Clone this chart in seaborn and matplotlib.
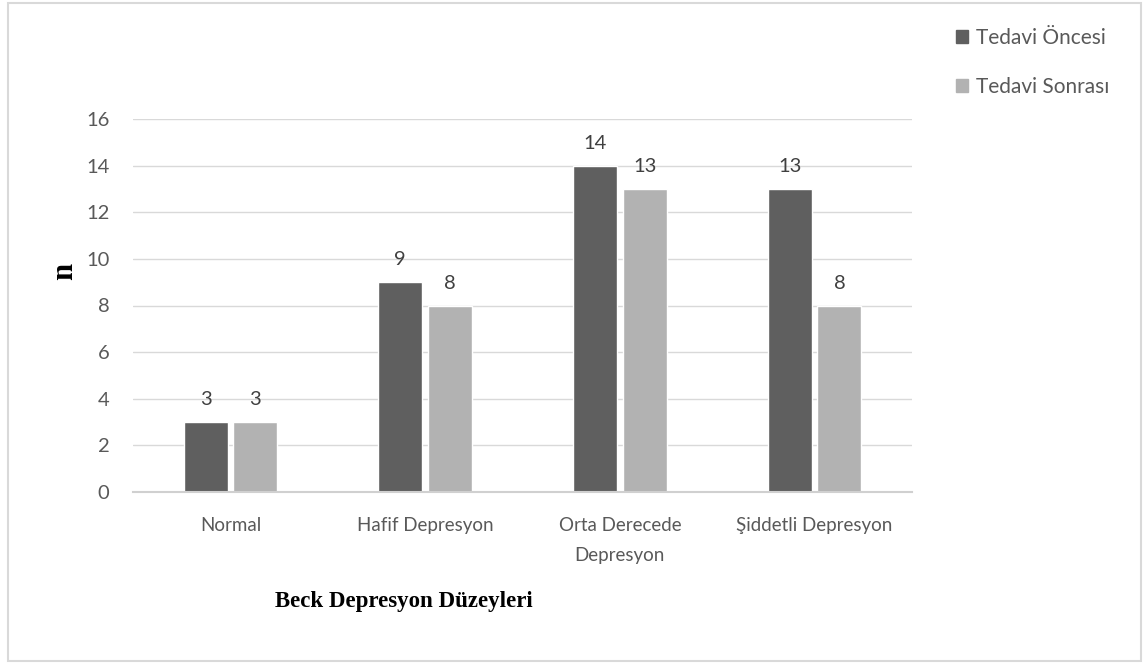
import matplotlib
matplotlib.use("Agg")
import matplotlib.pyplot as plt
import matplotlib.patches as mpatches
import seaborn as sns
import pandas as pd

# Depression levels and patient counts before / after treatment
categories = ["Normal", "Hafif Depresyon", "Orta Derecede\nDepresyon", "Şiddetli Depresyon"]
series_names = ["Tedavi Öncesi", "Tedavi Sonrası"]
before_values = [3, 9, 14, 13]
after_values = [3, 8, 13, 8]
y_ticks = [0, 2, 4, 6, 8, 10, 12, 14, 16]

colors = ["#5f5f5f", "#b2b2b2"]

df = pd.DataFrame({
    "level": categories * 2,
    "group": [series_names[0]] * len(categories) + [series_names[1]] * len(categories),
    "n": before_values + after_values,
})

sns.set_theme(style="white")
plt.rcParams["font.family"] = ["Lato", "DejaVu Sans"]

fig = plt.figure(figsize=(11.43, 6.63), dpi=100)
ax = fig.add_axes([133 / 1143, 1 - 492 / 663, (912 - 133) / 1143, (492 - 119) / 663])

sns.barplot(data=df, x="level", y="n", hue="group", order=categories,
            hue_order=series_names, palette=colors, width=0.51, gap=0.114,
            saturation=1, ax=ax, legend=False)

ax.set_ylim(0, 16)
ax.set_yticks(y_ticks)
ax.set_xlim(-0.5, len(categories) - 0.5)
ax.yaxis.grid(True, color="#d9d9d9", linewidth=1)
ax.set_axisbelow(True)
for side in ["left", "right", "top"]:
    ax.spines[side].set_visible(False)
ax.spines["bottom"].set_color("#d0d0d0")
ax.spines["bottom"].set_linewidth(1.5)
ax.tick_params(axis="both", length=0, colors="#595959")
ax.tick_params(axis="y", pad=17, labelsize=14.5)
ax.tick_params(axis="x", pad=18, labelsize=13.5)
for lbl in ax.get_xticklabels():
    lbl.set_linespacing(1.95)

for cont in ax.containers:
    ax.bar_label(cont, fmt="%d", padding=10, fontsize=14.5, color="#404040")

ax.set_xlabel("Beck Depresyon Düzeyleri", fontsize=16.5, fontweight="bold",
              family="Liberation Serif", color="black")
ax.xaxis.set_label_coords((404 - 133) / (912 - 133), -(591 - 492) / (492 - 119))
ax.set_ylabel("n", fontsize=22, fontweight="bold", family="Liberation Serif",
              color="black")
ax.yaxis.set_label_coords(-(133 - 79) / (912 - 133), (492 - 271) / (492 - 119))

handles = [mpatches.Patch(color=c, label=s) for c, s in zip(colors, series_names)]
fig.legend(handles=handles, loc="upper left", bbox_to_anchor=(956 / 1143, 1 - 28 / 663),
           frameon=False, fontsize=15, handlelength=0.58, handleheight=0.58,
           handletextpad=0.4, labelspacing=1.4, labelcolor="#595959",
           borderaxespad=0, borderpad=0)

fig.patches.append(mpatches.Rectangle((8 / 1143, 2 / 663), 1133 / 1143, 658 / 663,
                                      transform=fig.transFigure, fill=False,
                                      edgecolor="#d9d9d9", linewidth=1.5))

fig.savefig("out.png", dpi=100, facecolor="white")
